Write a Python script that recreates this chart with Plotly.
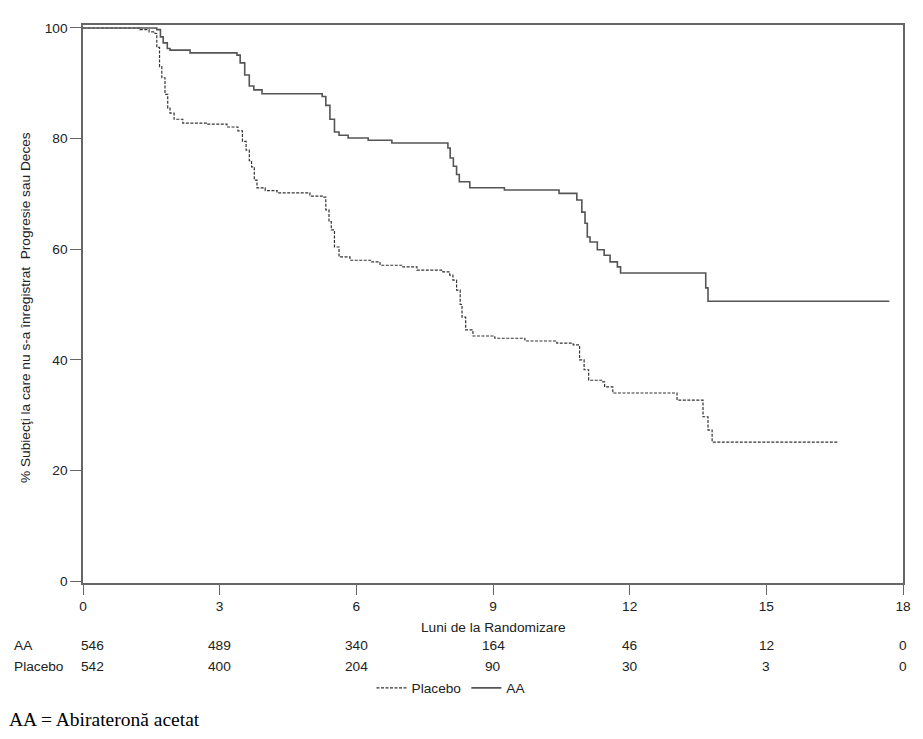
import plotly.graph_objects as go

# ---- data ----
aa_t = [0, 1.62, 1.70, 1.76, 1.85, 1.91, 2.35, 3.38, 3.45, 3.55, 3.65, 3.75, 3.93,
        5.25, 5.33, 5.42, 5.52, 5.62, 5.82, 6.26, 6.78, 8.01, 8.06, 8.13, 8.20, 8.26,
        8.49, 9.25, 10.45, 10.84, 10.95, 11.02, 11.07, 11.13, 11.29, 11.44, 11.57,
        11.73, 11.80, 13.67, 13.72, 17.7]
aa_s = [100, 99.7, 98.4, 97.3, 96.3, 96.0, 95.5, 95.1, 93.7, 91.5, 89.5, 88.8, 88.1,
        87.6, 86.0, 83.5, 81.2, 80.6, 80.1, 79.7, 79.2, 78.3, 76.5, 75.0, 73.5, 72.2,
        71.1, 70.7, 70.1, 68.9, 66.7, 64.7, 62.2, 61.3, 59.9, 58.9, 57.7,
        56.8, 55.7, 53.0, 50.6, 50.6]

pl_t = [0, 1.25, 1.45, 1.58, 1.62, 1.68, 1.73, 1.80, 1.86, 1.91, 2.00, 2.19, 2.72,
        3.16, 3.40, 3.50, 3.58, 3.65, 3.70, 3.76, 3.82, 4.00, 4.26, 4.98, 5.25, 5.33,
        5.40, 5.45, 5.52, 5.62, 5.86, 6.34, 6.52, 7.02, 7.33, 7.90, 8.05, 8.12, 8.20,
        8.28, 8.32, 8.40, 8.56, 9.04, 9.70, 10.40, 10.76, 10.90, 11.00, 11.10, 11.41,
        11.45, 11.63, 13.04, 13.61, 13.72, 13.81, 16.57]
pl_s = [100, 99.7, 99.3, 99.0, 96.5, 93.0, 91.0, 88.0, 85.5, 84.6, 83.5, 82.8, 82.6,
        82.1, 81.4, 79.5, 77.9, 76.0, 74.9, 72.5, 71.1, 70.6, 70.2, 69.6, 69.4, 67.1,
        65.0, 63.5, 60.4, 58.6, 58.0, 57.7, 57.1, 56.8, 56.2, 55.9, 55.3, 54.4, 52.6,
        50.0, 47.7, 45.4, 44.3, 43.9, 43.4, 43.0, 42.7, 40.0, 38.2, 36.3, 36.0,
        35.1, 34.0, 32.7, 29.7, 27.3, 25.1, 25.1]

risk_months = [0, 3, 6, 9, 12, 15, 18]
risk_aa = [546, 489, 340, 164, 46, 12, 0]
risk_pl = [542, 400, 204, 90, 30, 3, 0]
x_ticks = [0, 3, 6, 9, 12, 15, 18]
y_ticks = [0, 20, 40, 60, 80, 100]

SANS = "Liberation Sans, Arial, sans-serif"
TXT = "#222222"
AX = "#666666"
FS = 13.7

fig = go.Figure()
fig.add_trace(go.Scatter(x=pl_t, y=pl_s, mode="lines", line_shape="hv", name="Placebo",
                         line=dict(color="#333333", width=1.2, dash="3px,1.5px")))
fig.add_trace(go.Scatter(x=aa_t, y=aa_s, mode="lines", line_shape="hv", name="AA",
                         line=dict(color="#555555", width=1.6)))

W, H = 923, 739
L, R, T, B = 83, 20, 25, 156
ph = H - T - B


def py(p):
    return (H - B - p) / ph


def px(p):
    return (p - L) / (W - L - R)


ann = []
ann.append(dict(x=px(12), y=py(645), xref="paper", yref="paper", text="AA",
                showarrow=False, xanchor="left", yanchor="middle"))
ann.append(dict(x=px(12), y=py(666), xref="paper", yref="paper", text="Placebo",
                showarrow=False, xanchor="left", yanchor="middle"))
for m, a, p in zip(risk_months, risk_aa, risk_pl):
    shift = 9 if m == 0 else 0
    ann.append(dict(x=m, y=py(645), xref="x", yref="paper", text=str(a), xshift=shift,
                    showarrow=False, xanchor="center", yanchor="middle"))
    ann.append(dict(x=m, y=py(666), xref="x", yref="paper", text=str(p), xshift=shift,
                    showarrow=False, xanchor="center", yanchor="middle"))
ann.append(dict(x=0.5, y=py(627), xref="paper", yref="paper", text="Luni de la Randomizare",
                showarrow=False, xanchor="center", yanchor="middle"))
ann.append(dict(x=px(25), y=py(308), xref="paper", yref="paper",
                text="% Subiecţi la care nu s-a înregistrat  Progresie sau Deces",
                textangle=-90, showarrow=False, xanchor="center", yanchor="middle"))
ann.append(dict(x=px(7), y=py(719), xref="paper", yref="paper", text="AA = Abirateronă acetat",
                showarrow=False, xanchor="left", yanchor="middle",
                font=dict(family="Liberation Serif, Times New Roman, serif", size=19.5, color="#000000")))

fig.update_layout(
    width=W, height=H,
    margin=dict(l=L, r=R, t=T, b=B),
    paper_bgcolor="white", plot_bgcolor="white",
    font=dict(family=SANS, size=FS, color=TXT),
    showlegend=True,
    legend=dict(orientation="h", x=px(451), xanchor="center", y=py(688), yanchor="middle",
                font=dict(family=SANS, size=FS, color=TXT), itemwidth=30,
                bgcolor="rgba(0,0,0,0)"),
    annotations=ann,
    xaxis=dict(range=[0, 18], tickvals=x_ticks, ticktext=[str(v) for v in x_ticks],
               showgrid=False, zeroline=False, showline=True, linecolor=AX, linewidth=1.5,
               mirror=True, ticks="outside", ticklen=10, tickcolor=AX, tickwidth=1.2,
               tickfont=dict(family=SANS, size=FS, color=TXT)),
    yaxis=dict(range=[-0.36, 100.54], tickvals=y_ticks, ticktext=[str(v) for v in y_ticks],
               showgrid=False, zeroline=False, showline=True, linecolor=AX, linewidth=1.5,
               mirror=True, ticks="outside", ticklen=11, tickcolor=AX, tickwidth=1.2,
               tickfont=dict(family=SANS, size=FS, color=TXT)),
)

fig.write_html("out.html")
